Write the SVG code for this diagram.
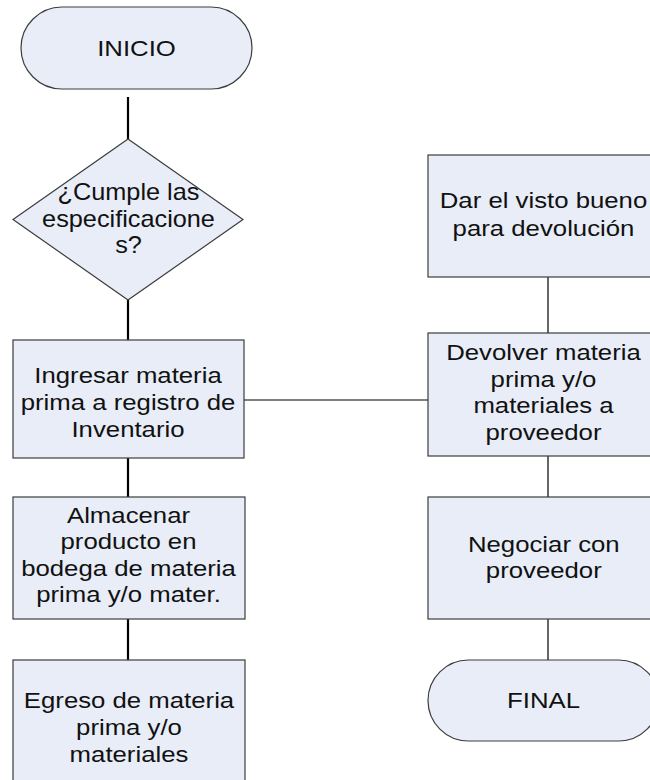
<svg xmlns="http://www.w3.org/2000/svg" width="650" height="780" viewBox="0 0 650 780">
<style>
.shape{fill:#E8EDF7;stroke:#3C3C3C;stroke-width:1.2}
.t{font-family:"Liberation Sans",Arial,sans-serif;font-size:23px;fill:#111;text-anchor:middle}
.c{stroke:#000;fill:none}
.c2{stroke-width:2.2}
.c1{stroke-width:1.2}
</style>
<rect width="650" height="780" fill="#fff"/>
<g id="connectors">
<line class="c c2" x1="128" y1="97" x2="128" y2="139"/>
<line class="c c2" x1="128" y1="300" x2="128" y2="340"/>
<line class="c c2" x1="128" y1="458" x2="128" y2="497"/>
<line class="c c2" x1="128" y1="619" x2="128" y2="660"/>
<line class="c c1" x1="244" y1="400" x2="428" y2="400"/>
<line class="c c1" x1="548" y1="277" x2="548" y2="333"/>
<line class="c c1" x1="548" y1="456" x2="548" y2="497"/>
<line class="c c1" x1="548" y1="619" x2="548" y2="660"/>
</g>
<g id="inicio">
<rect class="shape" x="21" y="7" width="231" height="82" rx="41" ry="41"/>
<text class="t" transform="translate(136.5,0) scale(1.12,1)"><tspan x="0" y="56">INICIO</tspan></text>
</g>
<g id="decision">
<polygon class="shape" points="128,139 243,219.5 128,300 13,219.5"/>
<text class="t" transform="translate(128.5,0) scale(1.1,1)"><tspan x="0" y="200">¿Cumple las</tspan><tspan x="0" y="226.7">especificacione</tspan><tspan x="0" y="253.3">s?</tspan></text>
</g>
<g id="ingresar">
<rect class="shape" x="13" y="340" width="231" height="118"/>
<text class="t" transform="translate(128,0) scale(1.12,1)"><tspan x="0" y="383">Ingresar materia</tspan><tspan x="0" y="410">prima a registro de</tspan><tspan x="0" y="437">Inventario</tspan></text>
</g>
<g id="almacenar">
<rect class="shape" x="13" y="497" width="232" height="122"/>
<text class="t" transform="translate(128.5,0) scale(1.12,1)"><tspan x="0" y="523">Almacenar</tspan><tspan x="0" y="549.5">producto en</tspan><tspan x="0" y="576">bodega de materia</tspan><tspan x="0" y="602.5">prima y/o mater.</tspan></text>
</g>
<g id="egreso">
<rect class="shape" x="13" y="660" width="232" height="122"/>
<text class="t" transform="translate(129,0) scale(1.12,1)"><tspan x="0" y="708">Egreso de materia</tspan><tspan x="0" y="735">prima y/o</tspan><tspan x="0" y="761.7">materiales</tspan></text>
</g>
<g id="visto-bueno">
<rect class="shape" x="428" y="155" width="231" height="122"/>
<text class="t" transform="translate(543.5,0) scale(1.12,1)"><tspan x="0" y="208.3">Dar el visto bueno</tspan><tspan x="0" y="236">para devolución</tspan></text>
</g>
<g id="devolver">
<rect class="shape" x="428" y="333" width="231" height="123"/>
<text class="t" transform="translate(543.5,0) scale(1.12,1)"><tspan x="0" y="360.5">Devolver materia</tspan><tspan x="0" y="387">prima y/o</tspan><tspan x="0" y="413.5">materiales a</tspan><tspan x="0" y="440">proveedor</tspan></text>
</g>
<g id="negociar">
<rect class="shape" x="428" y="497" width="231" height="122"/>
<text class="t" transform="translate(543.8,0) scale(1.12,1)"><tspan x="0" y="551.7">Negociar con</tspan><tspan x="0" y="578.3">proveedor</tspan></text>
</g>
<g id="final">
<rect class="shape" x="428" y="660" width="231" height="81" rx="40.5" ry="40.5"/>
<text class="t" transform="translate(543.5,0) scale(1.12,1)"><tspan x="0" y="708.5">FINAL</tspan></text>
</g>
</svg>
